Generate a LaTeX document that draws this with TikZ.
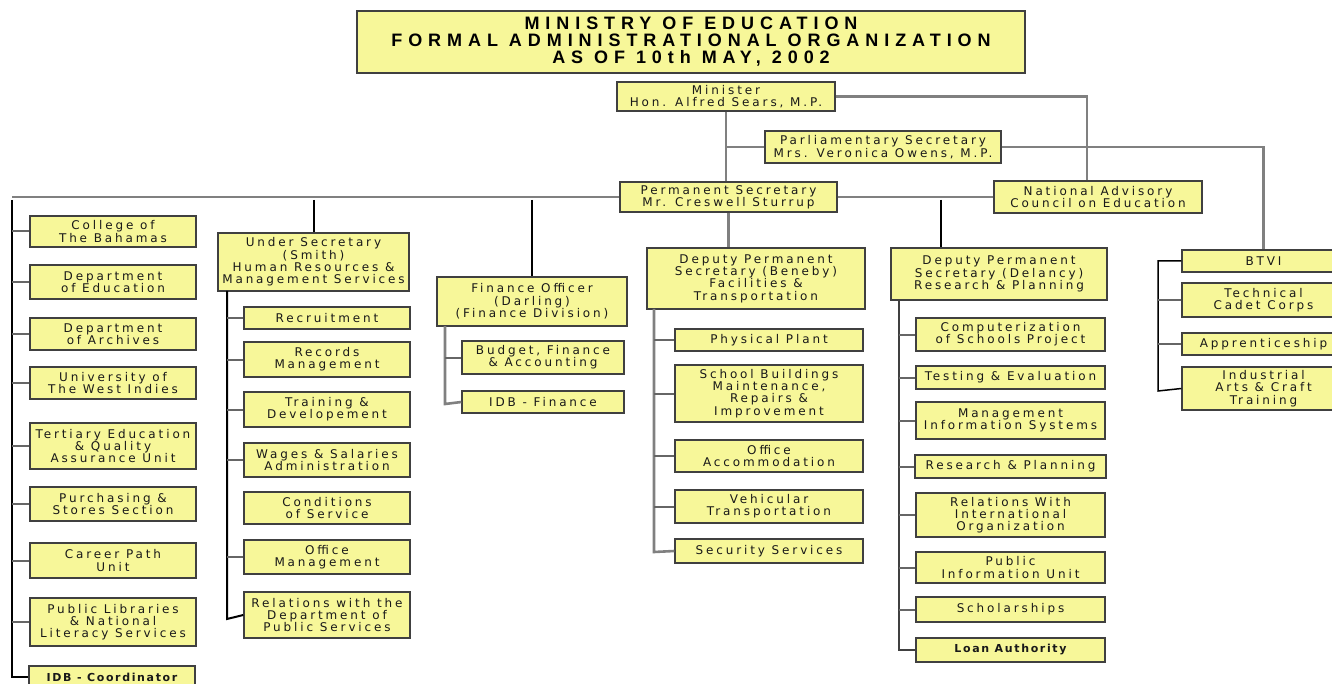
\documentclass[tikz,border=0pt]{standalone}
\usepackage{fontspec}
\usepackage{xcolor}
\newfontfamily\orgfont[LetterSpace=24]{DejaVu Sans}
\newfontfamily\boldorgfont[LetterSpace=15]{DejaVu Sans Bold}
\newfontfamily\headfont[LetterSpace=33]{Liberation Sans Bold}
\definecolor{boxyellow}{RGB}{247,247,153}

\begin{document}
\begin{tikzpicture}[x=1pt,y=-1pt,
            box/.style={draw=black!75,line width=1.4pt,fill=boxyellow,inner sep=0pt,align=center,text=black!90,
                font=\orgfont\fontsize{12}{12.3}\selectfont},
            link/.style={draw=black!50,line width=2.6pt},
            drop/.style={draw=black,line width=2pt},
            stub/.style={draw=black!60,line width=2pt}]
            \useasboundingbox[fill=white] (0,0) rectangle (1332,684);

            \node (title) at (691,42) [box,minimum width=668,minimum height=62,text=black,
                font=\headfont\fontsize{18}{17}\selectfont] {MINISTRY OF EDUCATION\\FORMAL ADMINISTRATIONAL ORGANIZATION\\AS OF 10th MAY, 2002};

            \node (minister) at (726,96.5) [box,minimum width=218,minimum height=29] {Minister\\Hon. Alfred Sears, M.P.};
            \node (parlsec) at (883,147) [box,minimum width=236,minimum height=32] {Parliamentary Secretary\\Mrs. Veronica Owens, M.P.};
            \node (permsec) at (728.5,197) [box,minimum width=217,minimum height=30] {Permanent Secretary\\Mr. Creswell Sturrup};
            \node (council) at (1098,197) [box,minimum width=208,minimum height=32] {National Advisory\\Council on Education};

            \node (college) at (113,231.5) [box,minimum width=166,minimum height=31] {College of\\The Bahamas};
            \node (deptedu) at (113,282) [box,minimum width=166,minimum height=34] {Department\\of Education};
            \node (archives) at (113,334) [box,minimum width=166,minimum height=32] {Department\\of Archives};
            \node (uwi) at (113,383) [box,minimum width=166,minimum height=32] {University of\\The West Indies};
            \node (tertiary) at (113,446) [box,minimum width=166,minimum height=46] {Tertiary Education\\\& Quality\\Assurance Unit};
            \node (purchase) at (113,504) [box,minimum width=166,minimum height=34] {Purchasing \&\\Stores Section};
            \node (career) at (113,560.5) [box,minimum width=166,minimum height=35] {Career Path\\Unit};
            \node (library) at (113,622) [box,minimum width=166,minimum height=48] {Public Libraries\\\& National\\Literacy Services};
            \node (idbco) at (112,677) [box,minimum width=166,minimum height=22,font=\boldorgfont\fontsize{11}{12}\selectfont] {IDB - Coordinator};

            \node (undersec) at (313.5,262) [box,minimum width=191,minimum height=58] {Under Secretary\\(Smith)\\Human Resources \&\\Management Services};
            \node (recruit) at (327,318) [box,minimum width=166,minimum height=22] {Recruitment};
            \node (records) at (327,359.5) [box,minimum width=166,minimum height=35] {Records\\Management};
            \node (training) at (327,409.5) [box,minimum width=166,minimum height=35] {Training \&\\Developement};
            \node (wages) at (327,460) [box,minimum width=166,minimum height=34] {Wages \& Salaries\\Administration};
            \node (conds) at (327,508) [box,minimum width=166,minimum height=32] {Conditions\\of Service};
            \node (offmgmt) at (327,557) [box,minimum width=166,minimum height=34] {Office\\Management};
            \node (relpub) at (327,615) [box,minimum width=166,minimum height=46] {Relations with the\\Department of\\Public Services};

            \node (finance) at (532,301.5) [box,minimum width=190,minimum height=49] {Finance Officer\\(Darling)\\(Finance Division)};
            \node (budget) at (543,357.5) [box,minimum width=162,minimum height=33] {Budget, Finance\\\& Accounting};
            \node (idbfin) at (543,402) [box,minimum width=162,minimum height=22] {IDB - Finance};

            \node (beneby) at (756,278.5) [box,minimum width=218,minimum height=61] {Deputy Permanent\\Secretary (Beneby)\\Facilities \&\\Transportation};
            \node (plant) at (769,340) [box,minimum width=188,minimum height=22] {Physical Plant};
            \node (school) at (769,393.5) [box,minimum width=188,minimum height=57] {School Buildings\\Maintenance,\\Repairs \&\\Improvement};
            \node (offacc) at (769,456) [box,minimum width=188,minimum height=32] {Office\\Accommodation};
            \node (vehicle) at (769,506.5) [box,minimum width=188,minimum height=33] {Vehicular\\Transportation};
            \node (security) at (769,551) [box,minimum width=188,minimum height=24] {Security Services};

            \node (delancy) at (999,274) [box,minimum width=216,minimum height=52] {Deputy Permanent\\Secretary (Delancy)\\Research \& Planning};
            \node (computer) at (1010.5,334.5) [box,minimum width=189,minimum height=33] {Computerization\\of Schools Project};
            \node (testing) at (1010.5,377.5) [box,minimum width=189,minimum height=23] {Testing \& Evaluation};
            \node (mis) at (1010.5,420.5) [box,minimum width=189,minimum height=37] {Management\\Information Systems};
            \node (research) at (1010.5,466.5) [box,minimum width=191,minimum height=23] {Research \& Planning};
            \node (relintl) at (1010.5,515) [box,minimum width=189,minimum height=44] {Relations With\\International\\Organization};
            \node (pubinfo) at (1010.5,567.5) [box,minimum width=189,minimum height=31] {Public\\Information Unit};
            \node (scholar) at (1010.5,609.5) [box,minimum width=189,minimum height=25] {Scholarships};
            \node (loan) at (1010.5,650) [box,minimum width=189,minimum height=24,font=\boldorgfont\fontsize{11}{12}\selectfont] {Loan Authority};

            \node (btvi) at (1263.5,261) [box,minimum width=163,minimum height=22] {BTVI};
            \node (cadet) at (1263.5,300) [box,minimum width=163,minimum height=34] {Technical\\Cadet Corps};
            \node (apprent) at (1263.5,344) [box,minimum width=163,minimum height=22] {Apprenticeship};
            \node (arts) at (1263.5,388.5) [box,minimum width=163,minimum height=43] {Industrial\\Arts \& Craft\\Training};

            \coordinate (lbus) at (12,200);
            \coordinate (ubus) at (227,291);
            \coordinate (ubend) at (227,619);
            \coordinate (fbus) at (445,326);
            \coordinate (fbend) at (445,404);
            \coordinate (bbus) at (654,309);
            \coordinate (bbend) at (654,552);
            \coordinate (dtap) at (941,200);
            \coordinate (dbus) at (899,300);
            \coordinate (dbend) at (899,650);
            \coordinate (tbus) at (1158,261);
            \coordinate (tbend) at (1158,391);

            \draw[link] (minister.south) -- (minister.south |- permsec.north);
            \draw[link] (parlsec.west -| minister.south) -- (parlsec.west);
            \draw[link] (minister.east) -| ([xshift=-11pt]council.north);
            \draw[link] (parlsec.east) -| (btvi.north);
            \draw[link] (permsec.east) -- (council.west);
            \draw[link] (permsec.west) -- (permsec.west -| lbus);
            \draw[link] (permsec.south) -- (permsec.south |- beneby.north);

            \draw[drop] (lbus) |- (idbco.west);
            \draw[drop] (undersec.north |- lbus) -- (undersec.north);
            \draw[drop] (finance.north |- lbus) -- (finance.north);
            \draw[drop] (dtap) -- (dtap |- delancy.north);

            \draw[stub] (college.west -| lbus) -- (college.west);
            \draw[stub] (deptedu.west -| lbus) -- (deptedu.west);
            \draw[stub] (archives.west -| lbus) -- (archives.west);
            \draw[stub] (uwi.west -| lbus) -- (uwi.west);
            \draw[stub] (tertiary.west -| lbus) -- (tertiary.west);
            \draw[stub] (purchase.west -| lbus) -- (purchase.west);
            \draw[stub] (career.west -| lbus) -- (career.west);
            \draw[stub] (library.west -| lbus) -- (library.west);

            \draw[drop] (ubus) -- (ubend) -- (relpub.west);
            \draw[stub] (recruit.west -| ubus) -- (recruit.west);
            \draw[stub] (records.west -| ubus) -- (records.west);
            \draw[stub] (training.west -| ubus) -- (training.west);
            \draw[stub] (wages.west -| ubus) -- (wages.west);
            \draw[stub] (offmgmt.west -| ubus) -- (offmgmt.west);

            \draw[link] (fbus) -- (fbend) -- (idbfin.west);
            \draw[stub] (budget.west -| fbus) -- (budget.west);

            \draw[link] (bbus) -- (bbend) -- (security.west);
            \draw[stub] (plant.west -| bbus) -- (plant.west);
            \draw[stub] (school.west -| bbus) -- (school.west);
            \draw[stub] (offacc.west -| bbus) -- (offacc.west);
            \draw[stub] (vehicle.west -| bbus) -- (vehicle.west);

            \draw[link,draw=black!75] (dbus) -- (dbend) -- (loan.west);
            \draw[stub] (computer.west -| dbus) -- (computer.west);
            \draw[stub] (testing.west -| dbus) -- (testing.west);
            \draw[stub] (mis.west -| dbus) -- (mis.west);
            \draw[stub] (research.west -| dbus) -- (research.west);
            \draw[stub] (relintl.west -| dbus) -- (relintl.west);
            \draw[stub] (pubinfo.west -| dbus) -- (pubinfo.west);
            \draw[stub] (scholar.west -| dbus) -- (scholar.west);

            \draw[stub,draw=black,line width=1.5pt] (btvi.west) -- (tbus) -- (tbend) -- (arts.west);
            \draw[stub] (cadet.west -| tbus) -- (cadet.west);
            \draw[stub] (apprent.west -| tbus) -- (apprent.west);
        \end{tikzpicture}
\end{document}
